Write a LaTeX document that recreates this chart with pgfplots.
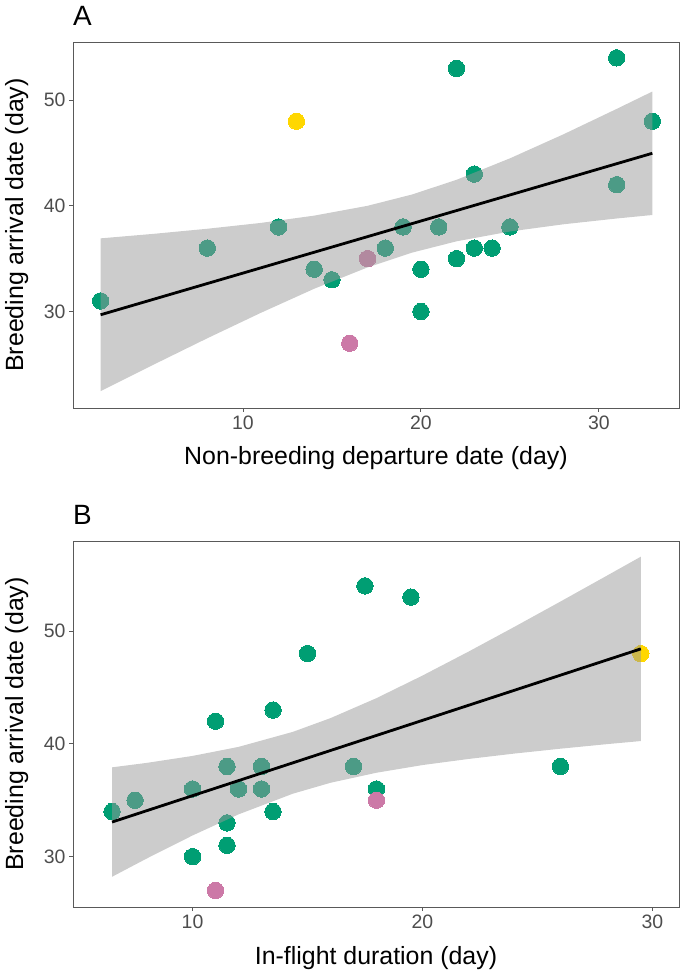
\documentclass[border=0pt]{standalone}
\usepackage{pgfplots}
\pgfplotsset{compat=1.18}
\usepackage{fontspec}
\setmainfont{Liberation Sans}
\definecolor{ptgreen}{HTML}{009E73}
\definecolor{ptyellow}{HTML}{FFD700}
\definecolor{ptpink}{HTML}{CC79A7}
\definecolor{ribgray}{HTML}{999999}
\definecolor{framegray}{HTML}{595959}
\definecolor{ticktext}{HTML}{4D4D4D}
\pgfplotsset{
  myaxis/.style={
    scale only axis, width=606bp, height=366bp,
    axis line style={framegray, line width=0.9bp},
    tick style={framegray, line width=0.9bp},
    tick align=outside, major tick length=4bp,
    xtick pos=left, ytick pos=left,
    xtick={10,20,30}, ytick={30,40,50},
    ticklabel style={font=\fontsize{19.5}{20}\selectfont, text=ticktext},
    /pgf/number format/assume math mode=true,
    clip marker paths=true,
  },
  pt/.style={only marks, mark=*, color=#1, mark size=8.2bp, mark options={draw=#1, fill=#1, line width=0pt}},
}
\begin{document}
\begin{tikzpicture}
\useasboundingbox (0bp,0bp) rectangle (685bp,972bp);
% ---------------- Panel A ----------------
\begin{axis}[myaxis, at={(73bp,564bp)}, anchor=south west,
  xmin=0.45, xmax=34.5, ymin=20.87, ymax=55.5]
\addplot[pt=ptgreen] coordinates {(2,31) (8,36) (12,38) (14,34) (15,33) (18,36) (19,38) (22,53) (20,34) (20,30) (21,38) (22,35) (23,43) (23,36) (24,36) (25,38) (31,54) (31,42) (33,48)};
\addplot[pt=ptyellow] coordinates {(13,48)};
\addplot[pt=ptpink] coordinates {(16,27) (17,35)};
\addplot[fill=ribgray, fill opacity=0.5, draw=none] coordinates {(2,36.92) (5,37.35) (8,37.83) (11,38.38) (14,39.07) (17,40.00) (19.5,41.07) (22,42.46) (25,44.49) (28,46.76) (31,49.17) (33,50.81)
 (33,39.13) (31,38.80) (28,38.25) (25,37.57) (22,36.64) (19.5,35.57) (17,34.17) (14,32.15) (11,29.87) (8,27.47) (5,24.99) (2,22.47)} -- cycle;
\addplot[black, line width=2.8bp] coordinates {(2,29.69) (33,44.97)};
\end{axis}
% ---------------- Panel B ----------------
\begin{axis}[myaxis, at={(73bp,65bp)}, anchor=south west,
  xmin=4.8, xmax=31.16, ymin=25.54, ymax=57.98]
\addplot[pt=ptgreen] coordinates {(6.5,34) (7.5,35) (10,36) (10,30) (11,42) (11.5,38) (11.5,33) (11.5,31) (12,36) (13,38) (13,36) (13.5,43) (13.5,34) (15,48) (17,38) (17.5,54) (18,36) (19.5,53) (26,38)};
\addplot[pt=ptyellow] coordinates {(29.5,48)};
\addplot[pt=ptpink] coordinates {(11,27) (18,35)};
\addplot[fill=ribgray, fill opacity=0.5, draw=none] coordinates {(6.5,37.92) (8,38.31) (10,38.93) (12,39.73) (14.36,41.06) (16,42.28) (18,44.05) (20,46.05) (22,48.17) (24,50.37) (26,52.61) (28,54.88) (29.5,56.59)
 (29.5,40.25) (28,39.97) (26,39.57) (24,39.14) (22,38.66) (20,38.12) (18,37.44) (16,36.55) (14.36,35.58) (12,33.75) (10,31.88) (8,29.83) (6.5,28.22)} -- cycle;
\addplot[black, line width=2.8bp] coordinates {(6.5,33.07) (29.5,48.42)};
\end{axis}
% ---------------- Labels ----------------
\node[anchor=base west, font=\fontsize{28}{30}\selectfont, inner sep=0pt] at (73bp,946bp) {A};
\node[anchor=base west, font=\fontsize{28}{30}\selectfont, inner sep=0pt] at (73bp,447bp) {B};
\node[anchor=base, font=\fontsize{25}{28}\selectfont, inner sep=0pt] at (376bp,507bp) {Non-breeding departure date (day)};
\node[anchor=base, font=\fontsize{25}{28}\selectfont, inner sep=0pt] at (376bp,8bp) {In-flight duration (day)};
\node[anchor=base, rotate=90, font=\fontsize{25}{28}\selectfont, inner sep=0pt] at (23bp,747bp) {Breeding arrival date (day)};
\node[anchor=base, rotate=90, font=\fontsize{25}{28}\selectfont, inner sep=0pt] at (23bp,248bp) {Breeding arrival date (day)};
\end{tikzpicture}
\end{document}
